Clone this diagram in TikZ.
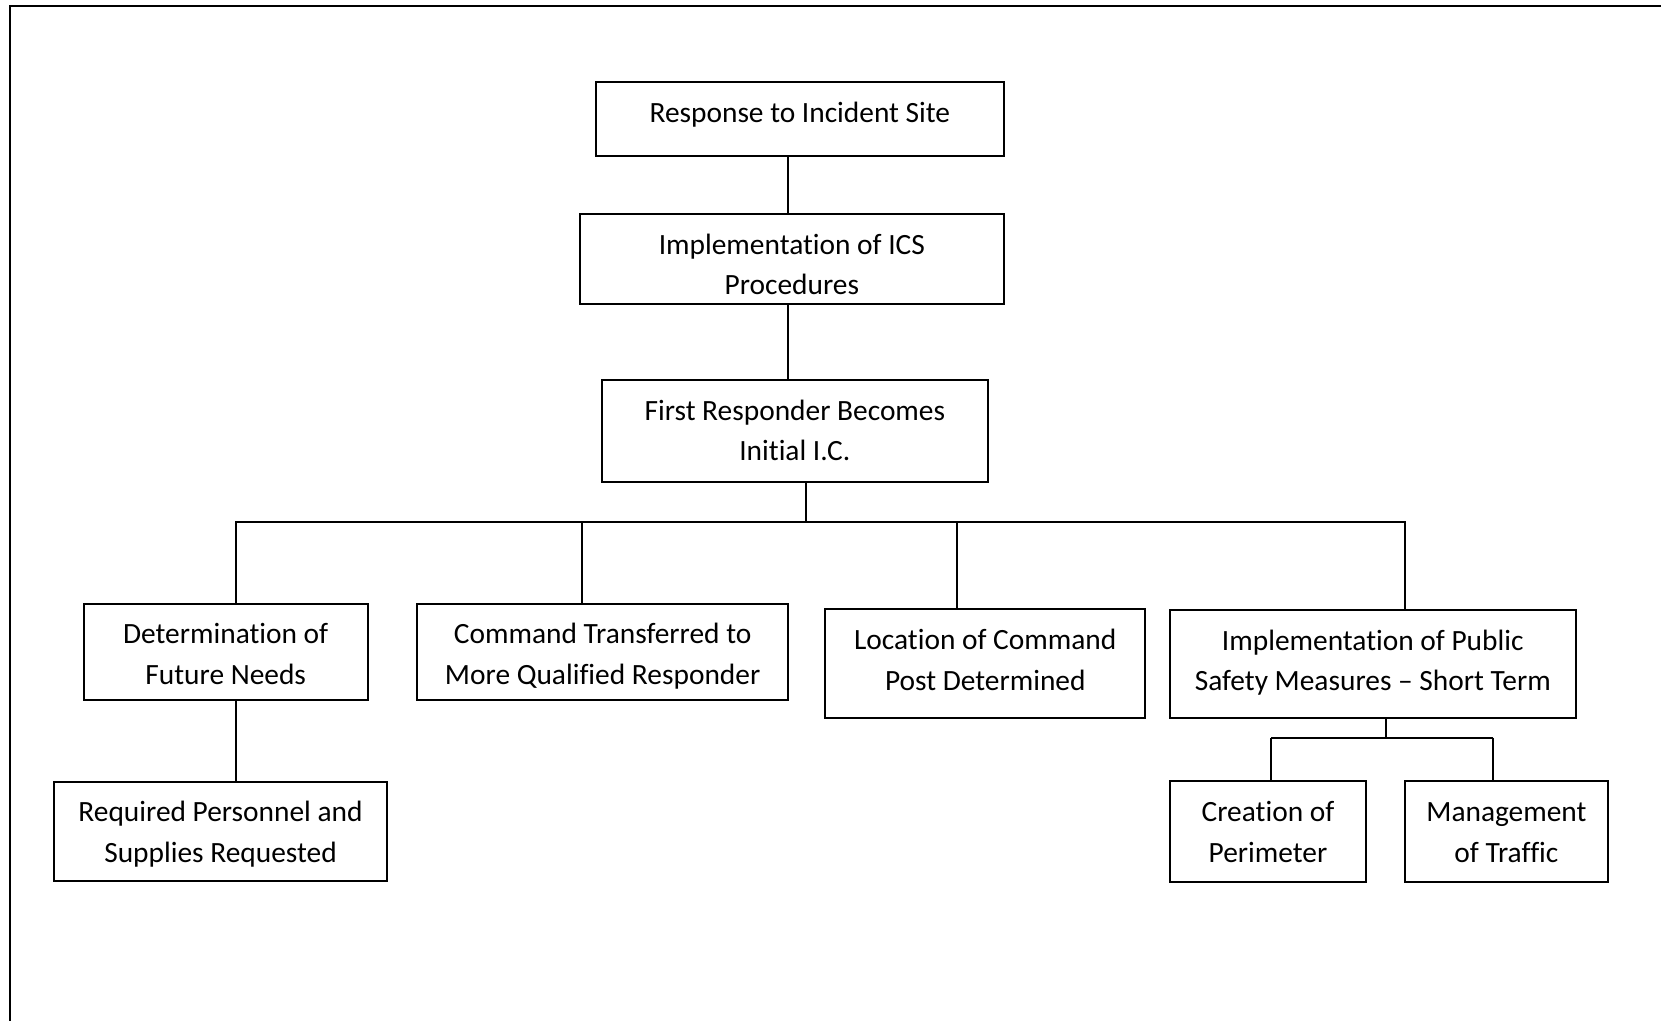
\documentclass[tikz,border=0pt]{standalone}
\usepackage{fontspec}
\setmainfont{Carlito}[Ligatures={TeX,NoCommon}]
% #1 name, #2 left, #3 top, #4 right, #5 bottom, #6 text (top aligned)
\newcommand\chartbox[6]{%
  \node[box, minimum width={#4-#2}, minimum height={#5-#3}] (#1) at ({(#2+#4)/2},{(#3+#5)/2}) {};
  \node[boxtext] (#1-text) at ([yshift=-15pt]#1.north) {\rule{0pt}{25pt}#6};}
\begin{document}
\begin{tikzpicture}[x=1pt,y=-1pt,
  box/.style={draw, line width=1.9pt, inner sep=0pt, outer sep=0pt},
  boxtext/.style={anchor=north, align=center, inner sep=0pt, font=\fontsize{29.4}{40.5}\selectfont},
  link/.style={line width=2pt}]
\useasboundingbox (0,0) rectangle (1661,1021);

% page frame
\draw[line width=2.2pt] (1661,6) -- (10,6) -- (10,1021);

% boxes
\chartbox{resp}{595.7}{82}{1004}{155.7}{Response to Incident Site}
\chartbox{ics}{579.7}{214}{1004}{303.7}{Implementation of ICS\\Procedures}
\chartbox{first}{601.7}{380}{988}{481.7}{First Responder Becomes\\Initial I.C.}
\chartbox{det}{83.7}{603.7}{367.7}{699.7}{Determination of\\Future Needs}
\chartbox{cmd}{417}{603.7}{788.3}{699.7}{Command Transferred to\\More Qualified Responder}
\chartbox{loc}{825.3}{609.3}{1145.2}{718.3}{Location of Command\\Post Determined}
\chartbox{pub}{1169.7}{610}{1575.8}{718}{Implementation of Public\\Safety Measures -- Short Term}
\chartbox{req}{53.7}{781.7}{387.3}{881.3}{Required Personnel and\\Supplies Requested}
\chartbox{crea}{1169.8}{781.3}{1366.2}{881.7}{Creation of\\Perimeter}
\chartbox{mgmt}{1404.8}{781.3}{1608}{881.7}{Management\\of Traffic}

% connector positions
\coordinate (spine) at (788,0);
\coordinate (bus) at (805.5,521.7);
\coordinate (busA) at (235.7,521.7);
\coordinate (busB) at (581.7,521.7);
\coordinate (busC) at (957.4,521.7);
\coordinate (busD) at (1405.3,521.7);
\coordinate (sub) at (1385.5,737.7);
\coordinate (subL) at (1271,737.7);
\coordinate (subR) at (1493,737.7);

% connectors
\draw[link] (resp.south -| spine) -- (ics.north -| spine);
\draw[link] (ics.south -| spine) -- (first.north -| spine);
\draw[link] (first.south -| bus) -- (bus);
\draw[link] (det.north -| busA) -- (busA) -- (busD) -- (pub.north -| busD);
\draw[link] (busB) -- (cmd.north -| busB);
\draw[link] (busC) -- (loc.north -| busC);
\draw[link] (det.south -| busA) -- (req.north -| busA);
\draw[link] (pub.south -| sub) -- (sub);
\draw[link] (subL) -- (subR);
\draw[link] (subL) -- (crea.north -| subL);
\draw[link] (subR) -- (mgmt.north -| subR);
\end{tikzpicture}
\end{document}
